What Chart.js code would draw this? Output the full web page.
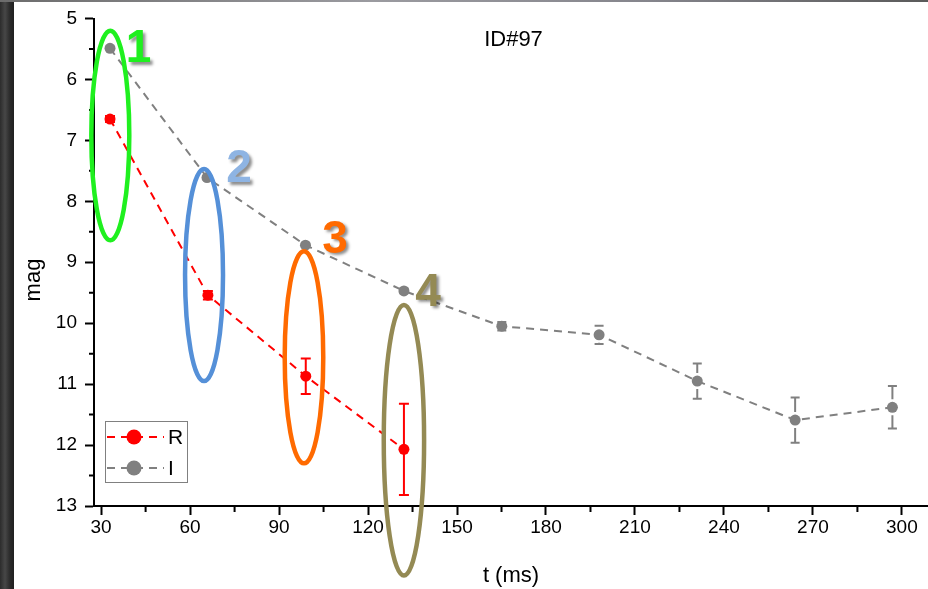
<!DOCTYPE html>
<html>
<head>
<meta charset="utf-8">
<title>ID#97</title>
<script src="https://cdn.jsdelivr.net/npm/chart.js@4.4.0/dist/chart.umd.min.js"></script>
<style>
    html, body { margin: 0; padding: 0; }
    body {
        width: 928px; height: 589px; overflow: hidden; position: relative;
        background: linear-gradient(90deg, #2c2c2c 0px, #474747 5px, #2a2a2a 10px, #1f1f1f 14px);
    }
    #topStrip {
        position: absolute; left: 0; top: 0; width: 928px; height: 2px;
        background: linear-gradient(90deg, #6c6c6c, #9b9ba0 40%, #85858c 70%, #5a5a5a);
    }
    #wrap { position: absolute; left: 14px; top: 2px; width: 914px; height: 587px; background: #fff; }
</style>
</head>
<body>
<div id="topStrip"></div>
<div id="wrap"><canvas id="magChart"></canvas></div>
<script>
// values
const tR = [33, 66, 99, 132.1];
const magR = [6.65, 9.54, 10.87, 12.07];
const errR = [0.05, 0.07, 0.29, 0.75];

const tI = [33, 65.7, 98.9, 132.1, 165.1, 197.9, 231, 264, 296.8];
const magI = [5.49, 7.61, 8.72, 9.47, 10.05, 10.19, 10.95, 11.59, 11.38];
const errI = [0.03, 0.03, 0.03, 0.04, 0.07, 0.15, 0.29, 0.37, 0.35];

const xTicks = [30, 60, 90, 120, 150, 180, 210, 240, 270, 300];
const yTicks = [5, 6, 7, 8, 9, 10, 11, 12, 13];

// highlighted groups (ellipses + numbers)
const ringLabels = ['1', '2', '3', '4'];
const ringT = [33.1, 64.7, 98.4, 132.1];
const ringMag = [6.92, 9.21, 10.56, 11.92];
const ringHalfT = [6.4, 6.4, 6.5, 6.8];
const ringHalfMag = [1.72, 1.74, 1.74, 2.22];
const ringColors = ['#1ff01f', '#5590d8', '#ff6a00', '#948a54'];
const numT = [42.6, 76.5, 108.9, 140.2];
const numMag = [5.48, 7.45, 8.6, 9.47];
const numColors = ['#1ff01f', '#8eb4e3', '#ff6a00', '#948a54'];

const FONT = '"Liberation Sans", Arial, sans-serif';
Chart.defaults.font.family = FONT;
Chart.defaults.color = '#000';

const toPoints = (xs, ys) => xs.map((x, i) => ({ x: x, y: ys[i] }));

const decorPlugin = {
    id: 'decor',
    beforeDatasetsDraw(chart) {
        const ctx = chart.ctx;
        const ys = chart.scales.y;
        const sets = [
            { idx: 0, errs: errR, vals: magR, color: '#ff0000', cap: 5, gap: 0 },
            { idx: 1, errs: errI, vals: magI, color: '#808080', cap: 4.5, gap: 8 }
        ];
        ctx.save();
        ctx.lineWidth = 2;
        sets.forEach(s => {
            const meta = chart.getDatasetMeta(s.idx);
            ctx.strokeStyle = s.color;
            meta.data.forEach((el, i) => {
                const yt = ys.getPixelForValue(s.vals[i] - s.errs[i]);
                const yb = ys.getPixelForValue(s.vals[i] + s.errs[i]);
                ctx.beginPath();
                if (s.gap === 0) {
                    ctx.moveTo(el.x, yt); ctx.lineTo(el.x, yb);
                } else {
                    if (el.y - s.gap > yt) { ctx.moveTo(el.x, yt); ctx.lineTo(el.x, el.y - s.gap); }
                    if (el.y + s.gap < yb) { ctx.moveTo(el.x, el.y + s.gap); ctx.lineTo(el.x, yb); }
                }
                ctx.moveTo(el.x - s.cap, yt); ctx.lineTo(el.x + s.cap, yt);
                ctx.moveTo(el.x - s.cap, yb); ctx.lineTo(el.x + s.cap, yb);
                ctx.stroke();
            });
        });
        ctx.restore();
    },
    afterDraw(chart) {
        const ctx = chart.ctx;
        const xs = chart.scales.x, ys = chart.scales.y;
        const area = chart.chartArea;
        ctx.save();

        // minor ticks
        ctx.strokeStyle = '#000';
        ctx.lineWidth = 2;
        ctx.beginPath();
        for (let v = 45; v < xs.max; v += 30) {
            const px = xs.getPixelForValue(v);
            ctx.moveTo(px, area.bottom); ctx.lineTo(px, area.bottom + 6);
        }
        for (let v = 5.5; v < 13; v += 1) {
            const py = ys.getPixelForValue(v);
            ctx.moveTo(area.left, py); ctx.lineTo(area.left - 5, py);
        }
        ctx.stroke();

        // y axis title
        ctx.fillStyle = '#000';
        ctx.font = '22px ' + FONT;
        ctx.textAlign = 'center';
        ctx.textBaseline = 'middle';
        ctx.save();
        ctx.translate(20, 278);
        ctx.rotate(-Math.PI / 2);
        ctx.fillText('mag', 0, 0);
        ctx.restore();

        // id label
        ctx.fillText('ID#97', 499.5, 38);

        // legend
        ctx.strokeStyle = '#808080';
        ctx.lineWidth = 1;
        ctx.strokeRect(91.5, 419.5, 82, 61);
        const rows = [
            { label: 'R', color: '#ff0000', y: 435 },
            { label: 'I', color: '#808080', y: 466 }
        ];
        rows.forEach(r => {
            ctx.strokeStyle = r.color;
            ctx.lineWidth = 2;
            ctx.setLineDash([8, 6]);
            ctx.beginPath();
            ctx.moveTo(93, r.y); ctx.lineTo(150, r.y);
            ctx.stroke();
            ctx.setLineDash([]);
            ctx.fillStyle = r.color;
            ctx.beginPath();
            ctx.arc(120, r.y, 7.5, 0, Math.PI * 2);
            ctx.fill();
            ctx.fillStyle = '#000';
            ctx.font = '21px ' + FONT;
            ctx.textAlign = 'left';
            ctx.fillText(r.label, 154, r.y + 1);
        });

        // ellipses round the groups
        ctx.lineWidth = 4.5;
        ringLabels.forEach((lab, i) => {
            const cx = xs.getPixelForValue(ringT[i]);
            const cy = ys.getPixelForValue(ringMag[i]);
            const rx = Math.abs(xs.getPixelForValue(ringT[i] + ringHalfT[i]) - cx);
            const ry = Math.abs(ys.getPixelForValue(ringMag[i] + ringHalfMag[i]) - cy);
            ctx.strokeStyle = ringColors[i];
            ctx.beginPath();
            ctx.ellipse(cx, cy, rx, ry, 0, 0, Math.PI * 2);
            ctx.stroke();
        });

        // group numbers
        ctx.font = 'bold 46px ' + FONT;
        ctx.textAlign = 'center';
        ctx.textBaseline = 'middle';
        ctx.shadowColor = 'rgba(0,0,0,0.45)';
        ctx.shadowOffsetX = 2.5;
        ctx.shadowOffsetY = 2.5;
        ctx.shadowBlur = 3;
        ringLabels.forEach((lab, i) => {
            ctx.fillStyle = numColors[i];
            ctx.fillText(lab, xs.getPixelForValue(numT[i]), ys.getPixelForValue(numMag[i]) + 2);
        });
        ctx.restore();
    }
};

const axisGrid = {
    display: true,
    drawOnChartArea: false,
    drawTicks: true,
    tickLength: 9,
    tickWidth: 2,
    tickColor: '#000'
};

new Chart(document.getElementById('magChart'), {
    type: 'scatter',
    data: {
        datasets: [
            {
                label: 'R',
                data: toPoints(tR, magR),
                showLine: true,
                borderColor: '#ff0000',
                borderWidth: 2,
                borderDash: [8, 6],
                pointRadius: 5.5,
                pointBackgroundColor: '#ff0000',
                pointBorderWidth: 0,
                tension: 0
            },
            {
                label: 'I',
                data: toPoints(tI, magI),
                showLine: true,
                borderColor: '#808080',
                borderWidth: 2,
                borderDash: [8, 6],
                pointRadius: 5.5,
                pointBackgroundColor: '#808080',
                pointBorderWidth: 0,
                tension: 0
            }
        ]
    },
    options: {
        responsive: true,
        maintainAspectRatio: false,
        animation: false,
        layout: { autoPadding: false, padding: { top: 16.5, right: 0, bottom: 0, left: 0 } },
        plugins: { legend: { display: false }, tooltip: { enabled: false } },
        scales: {
            x: {
                type: 'linear',
                min: 27.6,
                max: 308.8,
                afterBuildTicks: sc => { sc.ticks = xTicks.map(v => ({ value: v })); },
                afterFit: sc => { sc.height = 83; sc.paddingLeft = 0; sc.paddingRight = 0; },
                ticks: { font: { size: 19 }, color: '#000', padding: 1, maxRotation: 0, autoSkip: false },
                grid: axisGrid,
                border: { display: true, color: '#000', width: 2 },
                title: { display: true, text: 't (ms)', font: { size: 22 }, color: '#000', padding: 0 }
            },
            y: {
                type: 'linear',
                reverse: true,
                min: 5,
                max: 13,
                afterBuildTicks: sc => { sc.ticks = yTicks.map(v => ({ value: v })); },
                afterFit: sc => { sc.width = 80; sc.paddingTop = 0; sc.paddingBottom = 0; },
                ticks: { font: { size: 19 }, color: '#000', padding: 8, autoSkip: false },
                grid: axisGrid,
                border: { display: true, color: '#000', width: 2 }
            }
        }
    },
    plugins: [decorPlugin]
});
</script>
</body>
</html>
